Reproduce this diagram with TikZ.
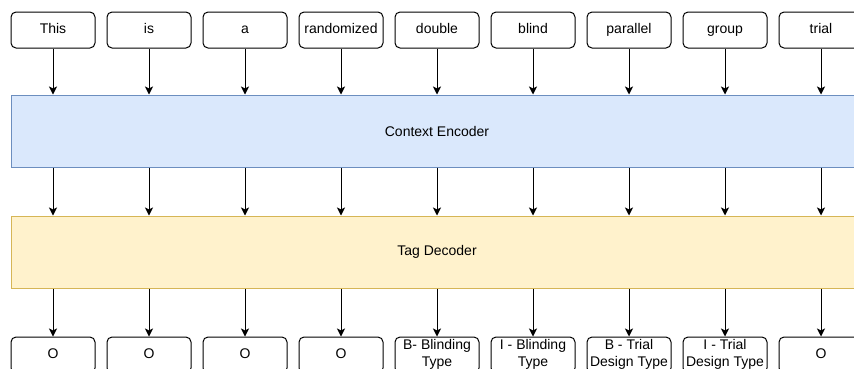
\documentclass[tikz,border=0pt]{standalone}
\usepackage{fontspec}
\setmainfont{Liberation Sans}
\usetikzlibrary{arrows.meta}

\definecolor{encfill}{HTML}{DAE8FC}
\definecolor{encline}{HTML}{6C8EBF}
\definecolor{decfill}{HTML}{FFF2CC}
\definecolor{decline}{HTML}{D6B656}

\tikzset{
    tokbox/.style={draw, rounded corners=5pt, line width=1pt, minimum width=84pt,
        minimum height=36pt, inner sep=1pt, align=center, font=\fontsize{14}{17}\selectfont,
        execute at begin node=\strut, execute at end node=\strut},
    layerbox/.style={draw, line width=1pt, minimum width=852pt, minimum height=72pt,
        font=\fontsize{14}{17}\selectfont},
    flow/.style={-{Stealth[length=8pt,width=8pt,inset=2pt]}, line width=1pt}
}

\begin{document}
\begin{tikzpicture}[x=1pt,y=-1pt]
            \useasboundingbox (0,0) rectangle (854,368);
            \clip (0,0) rectangle (854,368);
            % input tokens
            \foreach \w [count=\i] in {This,is,a,randomized,double,blind,parallel,group,trial}{
                \node[tokbox] (w\i) at (-43+96*\i,30) {\w};
            }
            \node[layerbox, fill=encfill, draw=encline] (enc) at (437,131) {Context Encoder};
            \node[layerbox, fill=decfill, draw=decline] (dec) at (437,252) {Tag Decoder};
            % output tags
            \foreach \tg [count=\i] in {O,O,O,O,{B- Blinding\\Type},{I - Blinding\\Type},
                {B - Trial\\Design Type},{I - Trial\\Design Type},O}{
                \node[tokbox] (t\i) at (-43+96*\i,355) {\tg};
            }
            \foreach \i in {1,...,9}{
                \draw[flow] (w\i.south) -- (w\i.south |- enc.north);
                \draw[flow] (enc.south -| w\i) -- (dec.north -| w\i);
                \draw[flow] (dec.south -| t\i) -- (t\i.north);
            }
        \end{tikzpicture}
\end{document}
